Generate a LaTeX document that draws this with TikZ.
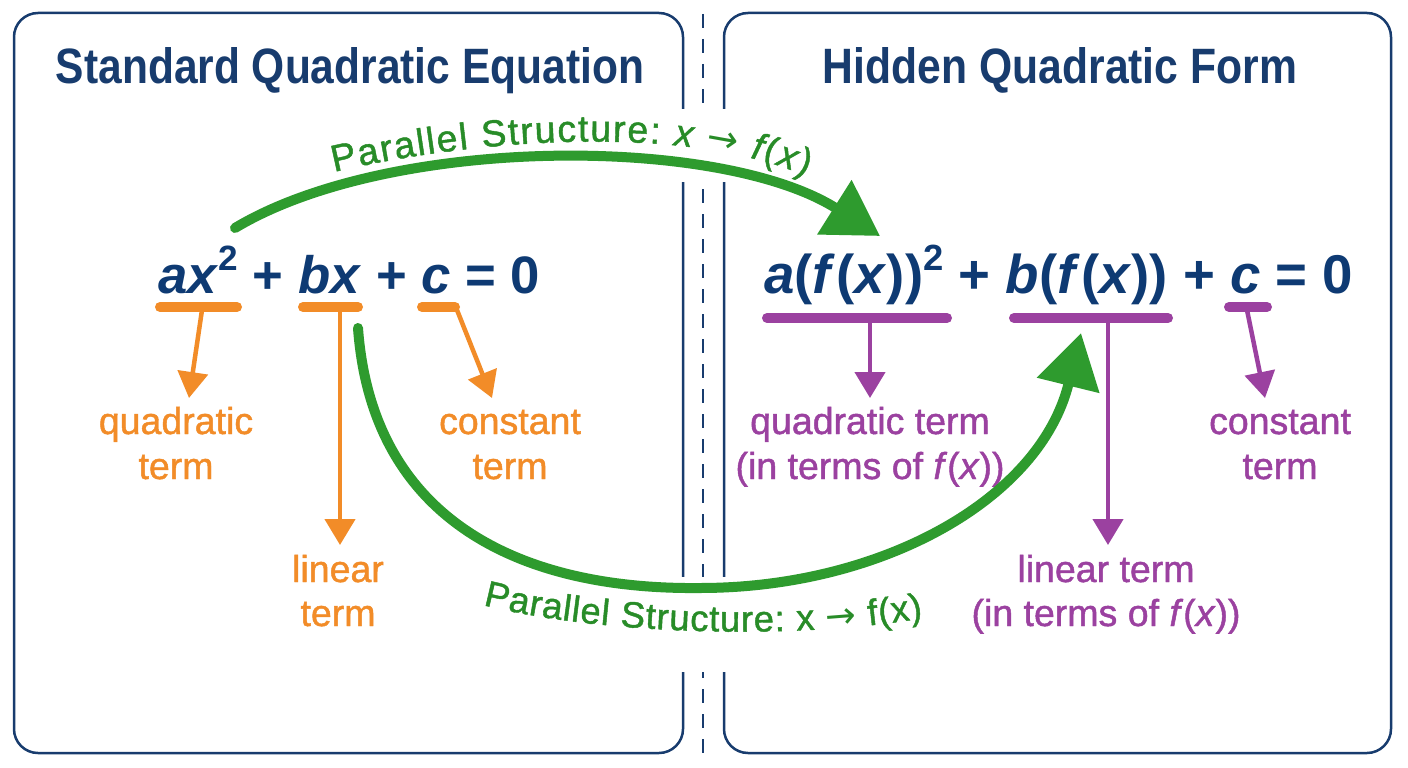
\documentclass[tikz,border=0pt]{standalone}
\usepackage{fontspec}
\setmainfont{Liberation Sans}
\newfontfamily\medfont[FakeBold=1.2]{Liberation Sans}
\newfontfamily\arrfont{DejaVu Sans}
\usetikzlibrary{arrows.meta,decorations.text}
\definecolor{navy}{RGB}{24,60,110}
\definecolor{eqblue}{RGB}{14,58,115}
\definecolor{orng}{RGB}{242,140,40}
\definecolor{purp}{RGB}{155,65,160}
\definecolor{grn}{RGB}{46,155,46}
\definecolor{gtxt}{RGB}{40,140,40}
\newcommand\sups[1]{\raisebox{0.42em}{\fontsize{36}{36}\selectfont #1}}
\newcommand\gfont{\color{gtxt}\medfont\upshape\fontsize{37.5}{45}\selectfont}
\newcommand\gfonti{\color{gtxt}\medfont\itshape\fontsize{37.5}{45}\selectfont}
\newcommand\garr{\color{gtxt}\arrfont\fontsize{37.5}{45}\selectfont}
\newcommand\gfontb{\color{gtxt}\medfont\upshape\fontsize{36.5}{44}\selectfont}
\newcommand\garrb{\color{gtxt}\arrfont\fontsize{36.5}{44}\selectfont}
\begin{document}
\begin{tikzpicture}[x=1pt,y=-1pt,
 panel/.style={draw=navy, line width=2.5pt, rounded corners=24pt},
 bar/.style={line width=10pt, line cap=round},
 lblarrow/.style={line width=4.5pt, -{Triangle[length=26pt,width=30pt]}},
 garrow/.style={draw=grn, line width=10pt, line cap=round, -{Triangle[length=54pt,width=62pt]}},
 lbl/.style={font=\medfont\fontsize{37.5}{45}\selectfont, anchor=base, inner sep=0pt},
 title/.style={text=navy, anchor=base, inner sep=0pt, font=\bfseries},
 eq/.style={text=eqblue, anchor=base west, inner sep=0pt, font=\bfseries\fontsize{54}{60}\selectfont}]
\fill[white] (0,0) rectangle (1408,768);
\useasboundingbox (0,0) rectangle (1408,768);

% panels and divider
\draw[panel] (14,13) rectangle (683,753);
\draw[panel] (724,13) rectangle (1391,753);
\coordinate (dtop) at (703,14);
\coordinate (dbot) at (703,762);
\draw[navy, line width=2.5pt, dash pattern=on 14pt off 11pt] (dtop) -- (dbot);
\fill[white] (668,109) rectangle (740,182);
\fill[white] (668,577) rectangle (740,672);

% titles
\node[title] (tL) at (350,83) {\resizebox{588pt}{36pt}{Standard Quadratic Equation}};
\node[title] (tR) at (1060,83) {\resizebox{474pt}{36pt}{Hidden Quadratic Form}};

% equations
\node[eq] (eqL) at (158,293) {\resizebox{382pt}{!}{\textit{ax}\sups{2} + \textit{bx} + \textit{c} = 0}};
\node[eq] (eqR) at (764,293) {\resizebox{589pt}{!}{\textit{a}(\textit{f}\kern1pt(\textit{x}))\sups{2} + \textit{b}(\textit{f}\kern1pt(\textit{x})) + \textit{c} = 0}};

% orange bars
\coordinate (o1a) at (160,307); \coordinate (o1b) at (237,307);
\coordinate (o2a) at (303,307); \coordinate (o2b) at (358,307);
\coordinate (o3a) at (422,307); \coordinate (o3b) at (455,307);
\draw[orng,bar] (o1a) -- (o1b);
\draw[orng,bar] (o2a) -- (o2b);
\draw[orng,bar] (o3a) -- (o3b);
\coordinate (o1s) at (202,310); \coordinate (o1t) at (189,398);
\coordinate (o2s) at (340,310); \coordinate (o2t) at (340,545);
\coordinate (o3s) at (457,310); \coordinate (o3t) at (492,398);
\draw[orng,lblarrow] (o1s) -- (o1t);
\draw[orng,lblarrow] (o2s) -- (o2t);
\draw[orng,lblarrow] (o3s) -- (o3t);

% purple bars
\coordinate (p1a) at (767,318); \coordinate (p1b) at (947,318);
\coordinate (p2a) at (1014,318); \coordinate (p2b) at (1168,318);
\coordinate (p3a) at (1229,307); \coordinate (p3b) at (1267,307);
\draw[purp,bar] (p1a) -- (p1b);
\draw[purp,bar] (p2a) -- (p2b);
\draw[purp,bar] (p3a) -- (p3b);
\coordinate (p1s) at (870,321); \coordinate (p1t) at (870,398);
\coordinate (p2s) at (1108,321); \coordinate (p2t) at (1108,545);
\coordinate (p3s) at (1247,310); \coordinate (p3t) at (1265,398);
\draw[purp,lblarrow] (p1s) -- (p1t);
\draw[purp,lblarrow] (p2s) -- (p2t);
\draw[purp,lblarrow] (p3s) -- (p3t);

% orange labels
\node[lbl,text=orng] (oq1) at (176,434) {quadratic};
\node[lbl,text=orng] (oq2) at (176,479) {term};
\node[lbl,text=orng] (oc1) at (510,434) {constant};
\node[lbl,text=orng] (oc2) at (510,479) {term};
\node[lbl,text=orng] (ol1) at (338,582) {linear};
\node[lbl,text=orng] (ol2) at (338,626) {term};

% purple labels
\node[lbl,text=purp] (pq1) at (870,434) {quadratic term};
\node[lbl,text=purp] (pq2) at (870,479) {(in terms of \textit{f}(\textit{x}))};
\node[lbl,text=purp] (pc1) at (1280,434) {constant};
\node[lbl,text=purp] (pc2) at (1280,479) {term};
\node[lbl,text=purp] (pl1) at (1106,582) {linear term};
\node[lbl,text=purp] (pl2) at (1106,626) {(in terms of \textit{f}(\textit{x}))};

% green arrows
\coordinate (gs1) at (235,228); \coordinate (ge1) at (880,236);
\draw[garrow] (gs1) .. controls (390,135) and (720,135) .. (ge1);
\coordinate (gs2) at (358,328); \coordinate (gm2) at (700,588); \coordinate (ge2) at (1081,333);
\draw[garrow] (gs2) .. controls (372,520) and (520,590) .. (gm2) .. controls (880,588) and (1040,500) .. (ge2);

% green texts
\path[decorate, decoration={text along path, text align={fit to path},
  text={|\gfont|Parallel Structure: |\gfonti|x|\gfont| |\garr|→|\gfont| |\gfonti|f|\gfont|(|\gfonti|x|\gfont|)}}]
  (334,172) .. controls (470,140) and (680,122) .. (806,176);
\path[decorate, decoration={text along path, text align={fit to path},
  text={|\gfontb|Parallel Structure: x |\garrb|→|\gfontb| f(x)}}]
  (483,605) .. controls (600,635) and (800,640) .. (923,618);
\end{tikzpicture}
\end{document}
